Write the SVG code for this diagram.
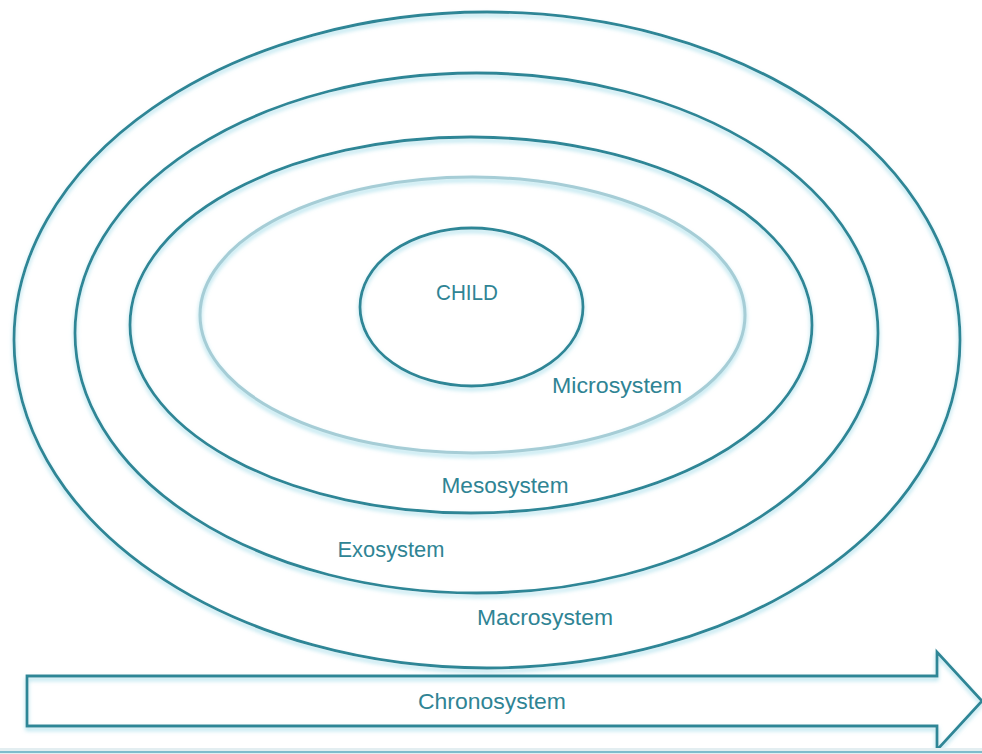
<svg xmlns="http://www.w3.org/2000/svg" width="982" height="754" viewBox="0 0 982 754">
  <defs>
    <filter id="glow" x="-10%" y="-10%" width="120%" height="125%">
      <feGaussianBlur in="SourceAlpha" stdDeviation="2" result="b"/>
      <feOffset in="b" dy="2.5" result="o"/>
      <feFlood flood-color="#9fdbe8" flood-opacity="0.9"/>
      <feComposite in2="o" operator="in" result="halo"/>
      <feMerge>
        <feMergeNode in="halo"/>
        <feMergeNode in="SourceGraphic"/>
      </feMerge>
    </filter>
  </defs>
  <style>
    .ring { fill: none; stroke: #2f8696; stroke-width: 2.8; filter: url(#glow); }
    .ring.light { stroke: #a6cdd6; stroke-width: 3; }
    .lbl { font-family: "Liberation Sans", Arial, sans-serif; font-size: 22px; fill: #2f8494; text-anchor: middle; }
  </style>
  <rect width="982" height="754" fill="#ffffff"/>

  <g id="macrosystem">
    <ellipse class="ring" cx="487" cy="340" rx="473" ry="328"/>
    <text class="lbl" x="545" y="625" textLength="136" lengthAdjust="spacingAndGlyphs">Macrosystem</text>
  </g>
  <g id="exosystem">
    <ellipse class="ring" cx="476.5" cy="333" rx="401.5" ry="260"/>
    <text class="lbl" x="391" y="557" textLength="107" lengthAdjust="spacingAndGlyphs">Exosystem</text>
  </g>
  <g id="mesosystem">
    <ellipse class="ring" cx="471" cy="325" rx="341" ry="188"/>
    <text class="lbl" x="505" y="493" textLength="127" lengthAdjust="spacingAndGlyphs">Mesosystem</text>
  </g>
  <g id="microsystem">
    <ellipse class="ring light" cx="472.5" cy="315" rx="272.5" ry="138"/>
    <text class="lbl" x="617" y="393" textLength="130" lengthAdjust="spacingAndGlyphs">Microsystem</text>
  </g>
  <g id="child">
    <ellipse class="ring" cx="471.5" cy="307" rx="111.5" ry="79"/>
    <text class="lbl" x="467" y="300" textLength="62" lengthAdjust="spacingAndGlyphs">CHILD</text>
  </g>

  <g id="chronosystem">
    <path class="ring" d="M27,676 H937 V652 L982,701 L937,750 V726 H27 Z"/>
    <text class="lbl" x="492" y="709" textLength="148" lengthAdjust="spacingAndGlyphs">Chronosystem</text>
  </g>

  <g id="baseline">
    <rect x="0" y="748" width="982" height="6" fill="#e3eef1"/>
    <line x1="0" y1="752" x2="982" y2="752" stroke="#7fbccc" stroke-width="2"/>
  </g>
</svg>
